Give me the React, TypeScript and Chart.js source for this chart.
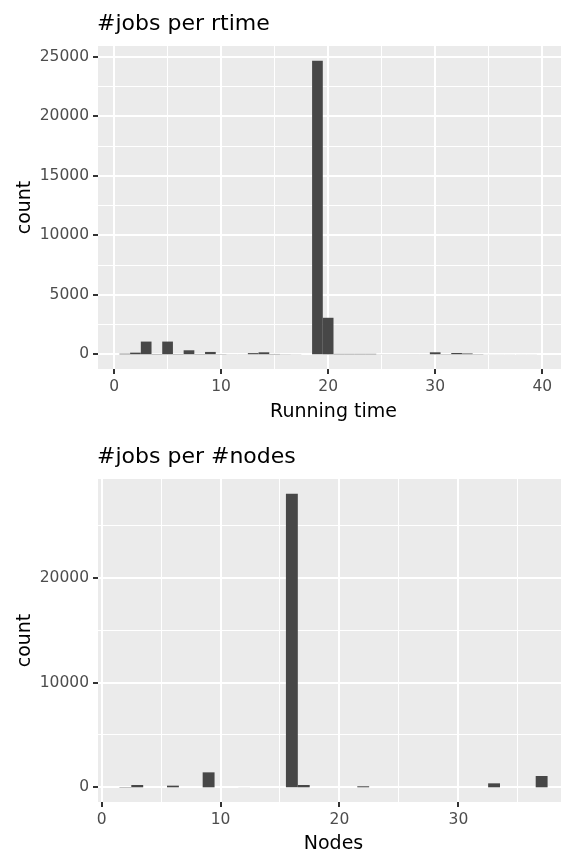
import React, { useEffect, useRef } from "react";
import { Chart, registerables } from "chart.js";

Chart.register(...registerables);

// ---------- data ----------
const rtimeBins = [1, 2, 3, 4, 5, 6, 7, 8, 9, 10, 11, 12, 13, 14, 15, 16, 17, 18, 19, 20, 21, 22, 23, 24, 25, 26, 27, 28, 29, 30, 31, 32, 33, 34, 35, 36, 37, 38, 39, 40];
const rtimeCounts = [50, 140, 1070, 30, 1070, 30, 340, 30, 200, 20, 10, 10, 100, 170, 30, 15, 10, 0, 24670, 3070, 40, 40, 40, 40, 10, 10, 10, 10, 10, 170, 20, 110, 70, 20, 5, 5, 5, 5, 5, 0];
const nodeBins = [2, 3, 4, 5, 6, 7, 8, 9, 10, 11, 12, 13, 14, 15, 16, 17, 18, 19, 20, 21, 22, 23, 24, 25, 26, 27, 28, 29, 30, 31, 32, 33, 34, 35, 36, 37];
const nodeCounts = [30, 220, 0, 0, 160, 0, 0, 1430, 0, 0, 5, 0, 0, 0, 28050, 220, 0, 0, 0, 0, 100, 0, 0, 0, 0, 0, 0, 0, 0, 0, 0, 380, 0, 0, 0, 1080];

const rtimeXTicks = [0, 10, 20, 30, 40];
const rtimeYTicks = [0, 5000, 10000, 15000, 20000, 25000];
const nodeXTicks = [0, 10, 20, 30];
const nodeYTicks = [0, 10000, 20000];

const FONT = "'DejaVu Sans', 'Liberation Sans', Arial, sans-serif";
const BAR = "#474747";

function withMinors(majors: number[], min: number, max: number) {
  const step = majors[1] - majors[0];
  const out: number[] = [];
  for (let i = -1; i < majors.length; i++) {
    const base = i < 0 ? majors[0] - step : majors[i];
    if (i >= 0) out.push(base);
    const m = base + step / 2;
    if (m >= min && m <= max) out.push(m);
  }
  return out.filter((v) => v >= min && v <= max).sort((a, b) => a - b);
}

type Spec = {
  title: string;
  xTitle: string;
  bins: number[];
  counts: number[];
  xMajors: number[];
  yMajors: number[];
  xMin: number;
  xMax: number;
  yMin: number;
  yMax: number;
  width: number;
  height: number;
  areaTop: number;
  areaBottom: number;
  areaLeft: number;
  areaRight: number;
  titleY: number;
  xTitleY: number;
};

function Hist({ spec }: { spec: Spec }) {
  const ref = useRef<HTMLCanvasElement>(null);
  useEffect(() => {
    const s = spec;
    const xAll = withMinors(s.xMajors, s.xMin, s.xMax);
    const yAll = withMinors(s.yMajors, s.yMin, s.yMax);
    const isXMajor = (v: number) => s.xMajors.includes(v);
    const isYMajor = (v: number) => s.yMajors.includes(v);

    const panel = {
      id: "panel",
      beforeDraw(chart: any) {
        const { ctx, chartArea: a } = chart;
        ctx.save();
        ctx.fillStyle = "#ffffff";
        ctx.fillRect(0, 0, chart.width, chart.height);
        ctx.fillStyle = "#EBEBEB";
        ctx.fillRect(a.left, a.top, a.right - a.left, a.bottom - a.top);
        ctx.restore();
      },
      afterDraw(chart: any) {
        const { ctx, chartArea: a } = chart;
        ctx.save();
        ctx.fillStyle = "#000000";
        ctx.textBaseline = "alphabetic";
        ctx.font = `22px ${FONT}`;
        ctx.textAlign = "left";
        ctx.fillText(s.title, a.left - 1, s.titleY);
        ctx.font = `19px ${FONT}`;
        ctx.textAlign = "center";
        ctx.fillText(s.xTitle, (a.left + a.right) / 2, s.xTitleY);
        ctx.translate(30, (a.top + a.bottom) / 2);
        ctx.rotate(-Math.PI / 2);
        ctx.fillText("count", 0, 0);
        ctx.restore();
      },
    };

    const chart = new Chart(ref.current!, {
      type: "bar",
      data: {
        datasets: [
          {
            data: s.bins.map((b, i) => ({ x: b, y: s.counts[i] })),
            backgroundColor: BAR,
            borderWidth: 0,
            inflateAmount: 0,
            categoryPercentage: 1,
            barPercentage: 1,
            base: 0.000001,
          },
        ],
      },
      options: {
        animation: false,
        responsive: false,
        devicePixelRatio: 1,
        events: [],
        layout: {
          padding: { top: s.areaTop, right: s.width - s.areaRight, left: 0, bottom: 0 },
        },
        plugins: { legend: { display: false }, tooltip: { enabled: false }, title: { display: false } },
        scales: {
          x: {
            type: "linear",
            min: s.xMin,
            max: s.xMax,
            offset: false,
            border: { display: false },
            grid: {
              offset: false,
              color: "#ffffff",
              lineWidth: (c: any) => (isXMajor(c.tick?.value) ? 2 : 1),
              tickColor: (c: any) => (isXMajor(c.tick?.value) ? "#333333" : "rgba(0,0,0,0)"),
              tickLength: 5,
              tickWidth: 2,
              drawTicks: true,
            },
            afterBuildTicks: (sc: any) => {
              sc.ticks = xAll.map((v) => ({ value: v }));
            },
            afterFit: (sc: any) => {
              sc.height = s.height - s.areaBottom;
            },
            ticks: {
              autoSkip: false,
              maxRotation: 0,
              minRotation: 0,
              padding: 4,
              color: "#4D4D4D",
              font: { family: FONT, size: 15.5 },
              callback: (v: any) => (isXMajor(Number(v)) ? String(v) : ""),
            },
          },
          y: {
            type: "linear",
            min: s.yMin,
            max: s.yMax,
            border: { display: false },
            grid: {
              color: "#ffffff",
              lineWidth: (c: any) => (isYMajor(c.tick?.value) ? 2 : 1),
              tickColor: (c: any) => (isYMajor(c.tick?.value) ? "#333333" : "rgba(0,0,0,0)"),
              tickLength: 5,
              tickWidth: 2,
              drawTicks: true,
            },
            afterBuildTicks: (sc: any) => {
              sc.ticks = yAll.map((v) => ({ value: v }));
            },
            afterFit: (sc: any) => {
              sc.width = s.areaLeft;
            },
            ticks: {
              autoSkip: false,
              padding: 4,
              color: "#4D4D4D",
              font: { family: FONT, size: 15.5 },
              callback: (v: any) => (isYMajor(Number(v)) ? String(v) : ""),
            },
          },
        },
      },
      plugins: [panel],
    } as any);
    return () => chart.destroy();
  }, [spec]);
  return (
    <canvas
      ref={ref}
      width={spec.width}
      height={spec.height}
      style={{ display: "block", width: spec.width, height: spec.height }}
    />
  );
}

const topSpec: Spec = {
  title: "#jobs per rtime",
  xTitle: "Running time",
  bins: rtimeBins,
  counts: rtimeCounts,
  xMajors: rtimeXTicks,
  yMajors: rtimeYTicks,
  xMin: -1.5,
  xMax: 42.5,
  yMin: -1233.5,
  yMax: 25903.5,
  width: 572,
  height: 430,
  areaTop: 46,
  areaBottom: 369,
  areaLeft: 98,
  areaRight: 569,
  titleY: 29.5,
  xTitleY: 416.5,
};

const bottomSpec: Spec = {
  title: "#jobs per #nodes",
  xTitle: "Nodes",
  bins: nodeBins,
  counts: nodeCounts,
  xMajors: nodeXTicks,
  yMajors: nodeYTicks,
  xMin: -0.3,
  xMax: 39.3,
  yMin: -1402.5,
  yMax: 29452.5,
  width: 572,
  height: 427,
  areaTop: 49,
  areaBottom: 372,
  areaLeft: 98,
  areaRight: 569,
  titleY: 33,
  xTitleY: 419,
};

export default function App() {
  return (
    <div
      style={{
        position: "absolute",
        left: 0,
        top: 0,
        width: 561,
        height: 857,
        overflow: "hidden",
        background: "#ffffff",
      }}
    >
      <Hist spec={topSpec} />
      <Hist spec={bottomSpec} />
    </div>
  );
}
